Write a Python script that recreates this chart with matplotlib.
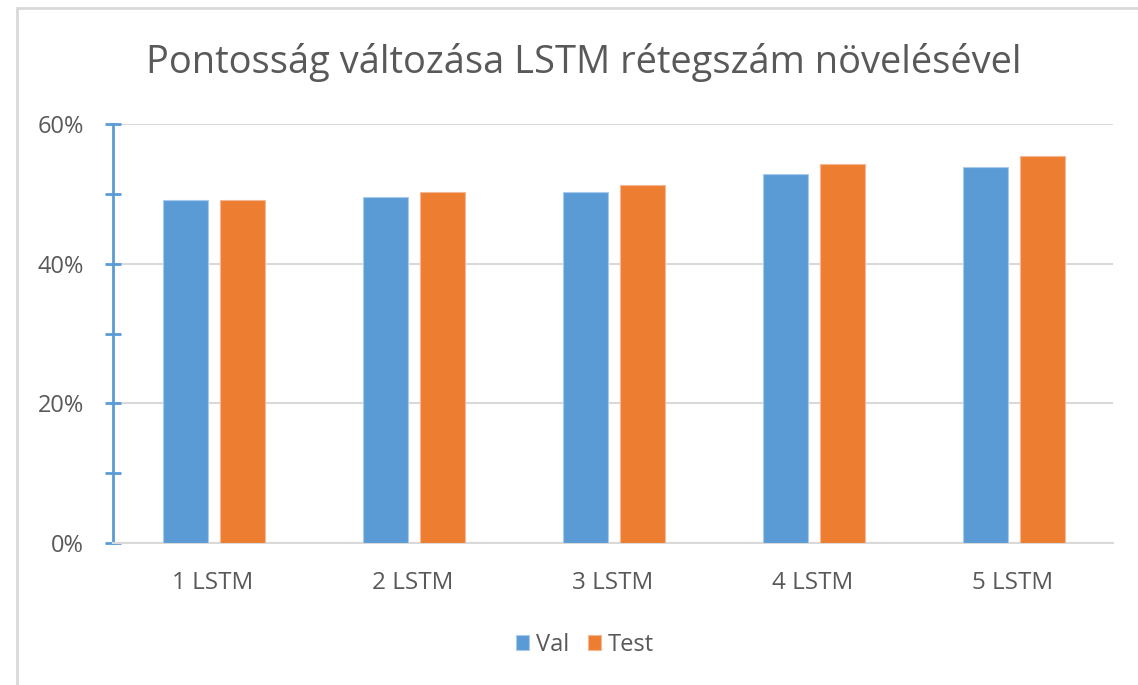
import numpy as np
import matplotlib
matplotlib.use("Agg")
import matplotlib.pyplot as plt
from matplotlib.ticker import MultipleLocator, FuncFormatter
from matplotlib.patches import Rectangle

categories = ["1 LSTM", "2 LSTM", "3 LSTM", "4 LSTM", "5 LSTM"]
val = [49.1, 49.5, 50.2, 52.8, 53.8]
test = [49.1, 50.2, 51.3, 54.3, 55.4]

col_val = "#5B9BD5"
col_test = "#ED7D31"
txt = "#595959"

plt.rcParams['font.family'] = ['Open Sans', 'DejaVu Sans']

fig = plt.figure(figsize=(11.38, 6.85), dpi=100)
# chart area border
fig.patches.append(Rectangle((17 / 1138, -0.1), 1.2, 1 - 8 / 685 + 0.1,
                             transform=fig.transFigure, fill=False,
                             edgecolor="#D9D9D9", linewidth=2))

ax = fig.add_axes([113 / 1138, 1 - 543 / 685, 1000 / 1138, 419 / 685])
x = np.arange(len(categories))
w = 0.225
ax.bar(x - 0.14, val, w, color=col_val, edgecolor="#A9CAEA", linewidth=0.8, label="Val", zorder=3)
ax.bar(x + 0.145, test, w, color=col_test, edgecolor="#F5B894", linewidth=0.8, label="Test", zorder=3)

ax.set_xlim(-0.5, len(categories) - 0.5)
ax.set_ylim(0, 60)
ax.yaxis.set_major_locator(MultipleLocator(20))
ax.yaxis.set_minor_locator(MultipleLocator(10))
ax.yaxis.set_major_formatter(FuncFormatter(lambda v, p: f"{v:.0f}%"))
ax.grid(axis="y", which="major", color="#D9D9D9", linewidth=1.5, zorder=0)

for s in ["top", "right"]:
    ax.spines[s].set_visible(False)
ax.spines["left"].set_color(col_val)
ax.spines["left"].set_linewidth(2)
ax.spines["bottom"].set_color("#D9D9D9")
ax.spines["bottom"].set_linewidth(1.5)

ax.tick_params(axis="y", which="both", direction="inout", length=12, width=2,
               color=col_val, labelcolor=txt, labelsize=17, pad=15)
ax.tick_params(axis="x", length=0, labelcolor=txt, labelsize=17.5, pad=20)
ax.set_xticks(x)
ax.set_xticklabels(categories)

fig.text(584 / 1138, 1 - 62 / 685, "Pontosság változása LSTM rétegszám növelésével",
         fontsize=27.4, color=txt, ha="center", va="center")

ax.legend(loc="center", bbox_to_anchor=(0.472, -0.243), ncol=2, frameon=False,
          fontsize=17, labelcolor=txt, handlelength=0.55, handleheight=0.55,
          handletextpad=0.3, columnspacing=0.8)

fig.savefig("out.png", dpi=100)
